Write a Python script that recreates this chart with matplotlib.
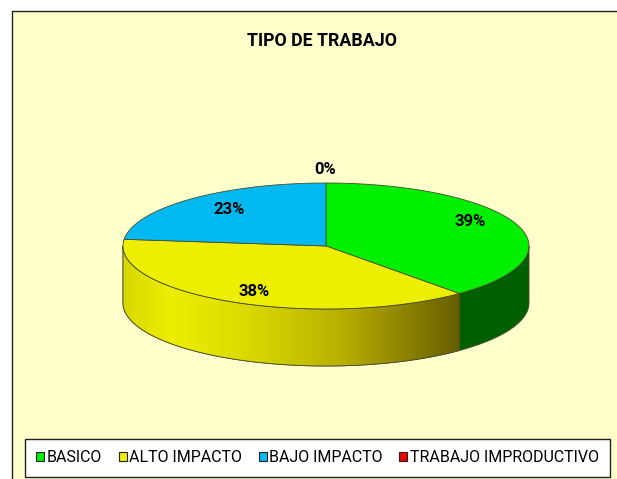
import numpy as np
import matplotlib
matplotlib.use('Agg')
import matplotlib.pyplot as plt
from matplotlib.patches import Patch, Polygon, Rectangle
from matplotlib.colors import LinearSegmentedColormap

categories = ['BASICO', 'ALTO IMPACTO', 'BAJO IMPACTO', 'TRABAJO IMPRODUCTIVO']
values = [38.6, 38.1, 23.3, 0.0]
colors = ['#00F000', '#EEEE00', '#00B9F0', '#F00000']
side_colors = ['#006000', None, None, None]
title = 'TIPO DE TRABAJO'

plt.rcParams['font.family'] = ['Roboto', 'Liberation Sans', 'DejaVu Sans']

CX, CY, RX, RY, DEPTH = 326, 246, 203, 63, 57
EDGE = '#4a4a30'


def ellipse_points(a0, a1, dy=0, n=200):
    # angles are clockwise from 12 o'clock, in degrees
    t = np.radians(np.linspace(a0, a1, n))
    return np.column_stack([CX + RX * np.sin(t), CY + dy - RY * np.cos(t)])


fig = plt.figure(figsize=(6.17, 4.79), dpi=100, facecolor='white')
ax = fig.add_axes([0, 0, 1, 1])
ax.set_xlim(0, 617)
ax.set_ylim(479, 0)
ax.axis('off')

# chart area
ax.add_patch(Rectangle((12, 11), 640, 500, fc='#FFFFCC', ec='#222222', lw=1))

shares = np.array(values) / sum(values) * 360
bounds = np.concatenate([[0], np.cumsum(shares)])

# side of the pie, only the front half shows
for i in range(len(values)):
    a0 = max(bounds[i], 90)
    a1 = min(bounds[i + 1], 270)
    if a1 <= a0:
        continue
    top = ellipse_points(a0, a1)
    bottom = ellipse_points(a1, a0, dy=DEPTH)
    poly = Polygon(np.vstack([top, bottom]), closed=True, fc=side_colors[i] or colors[i],
                   ec=EDGE, lw=0.6, zorder=2)
    ax.add_patch(poly)
    if side_colors[i] is None:
        # yellow wall fades to dark towards the right
        cmap = LinearSegmentedColormap.from_list('wall', [(0, '#D8D800'), (0.14, '#EEEE00'),
                                                          (0.35, '#DCDC00'), (0.65, '#B8B000'),
                                                          (1, '#665E00')])
        grad = np.linspace(0, 1, 256).reshape(1, -1)
        im = ax.imshow(grad, cmap=cmap, aspect='auto', zorder=2.1,
                       extent=[top[:, 0].min(), top[:, 0].max(), CY + RY + DEPTH, CY])
        im.set_clip_path(poly)
        ax.add_patch(Polygon(poly.get_xy(), closed=True, fc='none', ec=EDGE, lw=0.6, zorder=2.2))

# top of the pie
for i in range(len(values)):
    if shares[i] == 0:
        continue
    pts = np.vstack([[CX, CY], ellipse_points(bounds[i], bounds[i + 1])])
    ax.add_patch(Polygon(pts, closed=True, fc=colors[i], ec=EDGE, lw=0.6, zorder=3))

ax.set_xlim(0, 617)
ax.set_ylim(479, 0)

# percent labels
label_xy = [(470, 222), (254, 291), (229, 209), (325, 170)]
for i, v in enumerate(values):
    ax.text(label_xy[i][0], label_xy[i][1], f'{v:.0f}%', ha='center', va='center', fontsize=12,
            fontweight='bold', color='black', zorder=5)

ax.text(322, 41, title, ha='center', va='center', fontsize=12.8, fontweight='bold', color='black')

handles = [Patch(fc=c, ec='#222222', lw=0.8) for c in colors]
leg = ax.legend(handles, categories, ncol=4, loc='center', bbox_to_anchor=(317.5, 458),
                bbox_transform=ax.transData, frameon=True, fancybox=False, framealpha=1,
                edgecolor='#222222', facecolor='white', fontsize=11.5, handlelength=0.5,
                handleheight=0.5, handletextpad=0.15, columnspacing=1.05, borderpad=0.7)
leg.get_frame().set_linewidth(1)
leg.set_zorder(6)

fig.savefig('out.png', dpi=100, facecolor='white')
